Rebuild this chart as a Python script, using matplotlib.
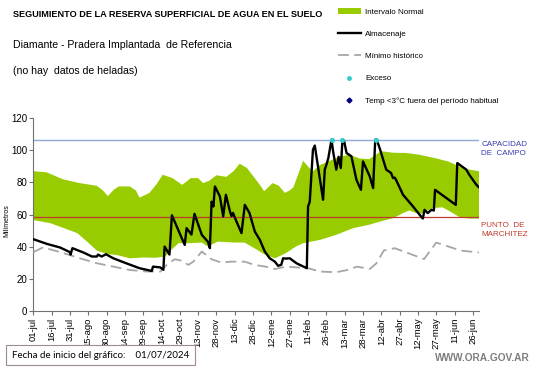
import numpy as np
import matplotlib
matplotlib.use('Agg')
import matplotlib.pyplot as plt
from matplotlib.lines import Line2D
from matplotlib.patches import Patch

plt.rcParams['font.family'] = ['Liberation Sans', 'DejaVu Sans']

# days since 01-jul-2024
tick_labels = ['01-jul', '16-jul', '31-jul', '15-ago', '30-ago', '14-sep', '29-sep',
               '14-oct', '29-oct', '13-nov', '28-nov', '13-dic', '28-dic', '12-ene',
               '27-ene', '11-feb', '26-feb', '13-mar', '28-mar', '12-abr', '27-abr',
               '12-may', '27-may', '11-jun', '26-jun']
tick_days = [15 * i for i in range(len(tick_labels))]

capacidad = 106.5
marchitez = 58.5

up_days = [0, 11, 24, 38, 52, 57, 61, 66, 70, 79, 84, 87, 95, 101, 106, 114, 122, 129,
           135, 139, 144, 150, 158, 164, 169, 175, 181, 186, 189, 196, 201, 206, 210,
           213, 221, 226, 229, 235, 240, 250, 259, 267, 275, 285, 295, 305, 316, 330,
           340, 349, 357, 365]
up_vals = [87, 86.3, 82, 79.6, 77.9, 75, 71.5, 75.5, 77.5, 77.5, 75, 70.5, 73.4, 79,
           84.8, 82.7, 78.5, 82.7, 82.7, 79.6, 81, 84.5, 83.5, 87, 91.7, 89, 83, 78,
           74.5, 79.6, 78, 73.5, 75, 77, 93.5, 89, 87, 91, 92.5, 96, 97.3, 95, 94.5,
           99.5, 98.5, 98.4, 97.3, 95, 93, 90, 88, 87]

low_days = [0, 14, 25, 36, 44, 52, 60, 68, 79, 90, 100, 108, 113, 119, 127, 138, 143,
            151, 165, 173, 181, 190, 198, 207, 215, 221, 235, 248, 262, 275, 284, 295,
            303, 308, 313, 318, 327, 335, 340, 349, 357, 365]
low_vals = [56.5, 54.6, 51.5, 48.4, 43.1, 37.5, 35.4, 34.8, 32.7, 33.2, 33, 33.8, 37.9,
            42.1, 42.1, 42.5, 40, 43.1, 42.5, 42.5, 39, 34.8, 32.7, 36, 40, 42.1, 44.2,
            47.3, 51.5, 53.6, 55.6, 57.8, 61, 62.5, 61, 60.5, 64, 64.5, 62.5, 58.4,
            57.5, 57.5]

alm_days = [0, 11, 22, 30, 30.5, 32, 41, 48, 52, 53, 56, 59.5, 65.5, 76, 87, 97, 98,
            104, 106.5, 107.5, 111.5, 113.5, 124, 125.5, 129.5, 132, 138, 143, 144.6,
            146, 147.5, 148.7, 152.8, 155.5, 157.7, 161, 162.3, 163.5, 166.4, 170.5,
            173.2, 177, 181.4, 185.5, 189.6, 193.6, 197.8, 200.5, 203, 204.6, 207, 210,
            215.5, 224, 225, 226.4, 229, 230.5, 237.3, 238.7, 240, 241.6, 244.2, 245.5,
            248.1, 250, 251.8, 253.2, 254.5, 256.5, 260.5, 264.6, 268.3, 270, 275.5,
            278.3, 280, 281.2, 283.6, 289, 293, 294.6, 296, 297, 302.8, 311, 316.4,
            319, 320.4, 323, 326, 328, 329, 346, 347.2, 354.6, 357, 362.8, 365]
alm_vals = [44.6, 41.7, 39.4, 36.5, 35, 39, 36.3, 33.8, 33.8, 35, 33.8, 35.2, 32.7,
            29.6, 26.5, 24.8, 27.5, 27, 25.5, 40, 35, 59.5, 41, 51.5, 47.5, 60.4, 47.3,
            43, 39, 68, 65, 77.5, 71.3, 58.8, 72.3, 62, 59, 61, 55.6, 48.4, 66, 61,
            49.4, 44.2, 36.9, 32.7, 30.6, 28, 28.6, 32.7, 32.5, 32.7, 29.6, 26.5, 65,
            68, 100.4, 103, 69.2, 88, 91, 95.2, 106.7, 99.4, 88, 96, 89, 106.7, 106,
            98.4, 96.3, 81.7, 75.4, 93.1, 83.8, 76.5, 106.7, 106.7, 101.5, 88, 85.9,
            82.7, 83, 81.7, 72.3, 65, 59.8, 57.5, 62.9, 60.9, 62.9, 62.5, 75.4, 66,
            92.1, 88, 84.8, 78.6, 77]

min_days = [0, 8, 24.5, 38, 52, 65.5, 79, 93, 104, 110.5, 116, 121, 127, 131, 138, 146,
            154, 162, 173, 181, 190, 198, 207, 225, 235, 248, 258, 265, 275.5, 281, 287,
            296, 307, 320, 330, 340, 350, 365]
min_vals = [36.5, 39.5, 36, 32.7, 29.6, 27.5, 25.4, 24.4, 24.4, 29.6, 32.1, 31.3, 28.6,
            30.6, 36.9, 32.1, 30, 30.6, 30.6, 28.6, 27.5, 26, 27.5, 26.5, 24.4, 24,
            25.5, 27.5, 26, 29.6, 37.5, 39, 35.9, 32.2, 42.5, 40, 37.5, 36.3]

exceso_days = [244.2, 253.2, 280.5]
exceso_vals = [106.7, 106.7, 106.7]

green = '#99cc00'

fig = plt.figure(figsize=(5.41, 3.68), dpi=100)
ax = fig.add_axes([0.0616, 0.1557, 0.8238, 0.5228])

ax.fill(np.r_[up_days, low_days[::-1]], np.r_[up_vals, low_vals[::-1]],
        color=green, lw=0, zorder=1)
ax.axhline(capacidad, color='#8fa8d8', lw=1.0, zorder=2)
ax.axhline(marchitez, color='#c0392b', lw=0.9, zorder=2)
ax.plot(min_days, min_vals, color='#a6a6a6', lw=1.3, dashes=(6, 3), zorder=3)
ax.plot(alm_days, alm_vals, color='black', lw=1.7, zorder=4)
ax.scatter(exceso_days, exceso_vals, s=7, color='#33cccc', zorder=5)

ax.set_xlim(0, 365)
ax.set_ylim(0, 120)
ax.set_yticks(range(0, 121, 20))
ax.set_xticks(tick_days)
ax.set_xticklabels(tick_labels, rotation=90, fontsize=6.8)
ax.tick_params(axis='y', labelsize=7, length=3, color='#707070', pad=1.5)
ax.tick_params(axis='x', length=3, color='#707070', pad=2)
for s in ['top', 'right']:
    ax.spines[s].set_visible(False)
for s in ['left', 'bottom']:
    ax.spines[s].set_color('#707070')
ax.set_ylabel('Milímetros', fontsize=5)
ax.yaxis.set_label_coords(-0.052, 0.47)

ax.text(367, 101, 'CAPACIDAD\nDE  CAMPO', color='#3b3bb0', fontsize=5.8,
        va='center', ha='left', linespacing=1.35)
ax.text(367, 50.5, 'PUNTO  DE\nMARCHITEZ', color='#c0392b', fontsize=5.8,
        va='center', ha='left', linespacing=1.35)

fig.text(0.024, 0.96, 'SEGUIMIENTO DE LA RESERVA SUPERFICIAL DE AGUA EN EL SUELO',
         fontsize=6.6, fontweight='bold', va='center')
fig.text(0.024, 0.877, 'Diamante - Pradera Implantada  de Referencia', fontsize=7.6,
         va='center')
fig.text(0.024, 0.806, '(no hay  datos de heladas)', fontsize=7.6, va='center')

handles = [
    Patch(facecolor=green, edgecolor='none'),
    Line2D([], [], color='black', lw=1.7),
    Line2D([], [], color='#a6a6a6', lw=1.3, dashes=(6, 3)),
    Line2D([], [], color='#33cccc', marker='o', ms=2.5, ls='none'),
    Line2D([], [], color='#000080', marker='D', ms=2.5, ls='none'),
]
labels = ['Intervalo Normal', 'Almacenaje', 'Mínimo histórico', 'Exceso',
          'Temp <3°C fuera del período habitual']
fig.legend(handles, labels, loc='upper left', bbox_to_anchor=(0.612, 0.995),
           frameon=False, fontsize=5.8, labelspacing=1.8, handlelength=2.9,
           handletextpad=0.5, borderpad=0.3)

fig.text(0.022, 0.035, 'Fecha de inicio del gráfico:    01/07/2024', fontsize=7,
         family=['Lato', 'DejaVu Sans'], va='center',
         bbox=dict(boxstyle='square,pad=0.6', fc='white', ec='#a08c8c', lw=0.8))
fig.text(0.98, 0.026, 'WWW.ORA.GOV.AR', fontsize=7.3, fontweight='bold',
         color='#7f7f7f', ha='right', va='center')

fig.savefig('out.png', dpi=100)
